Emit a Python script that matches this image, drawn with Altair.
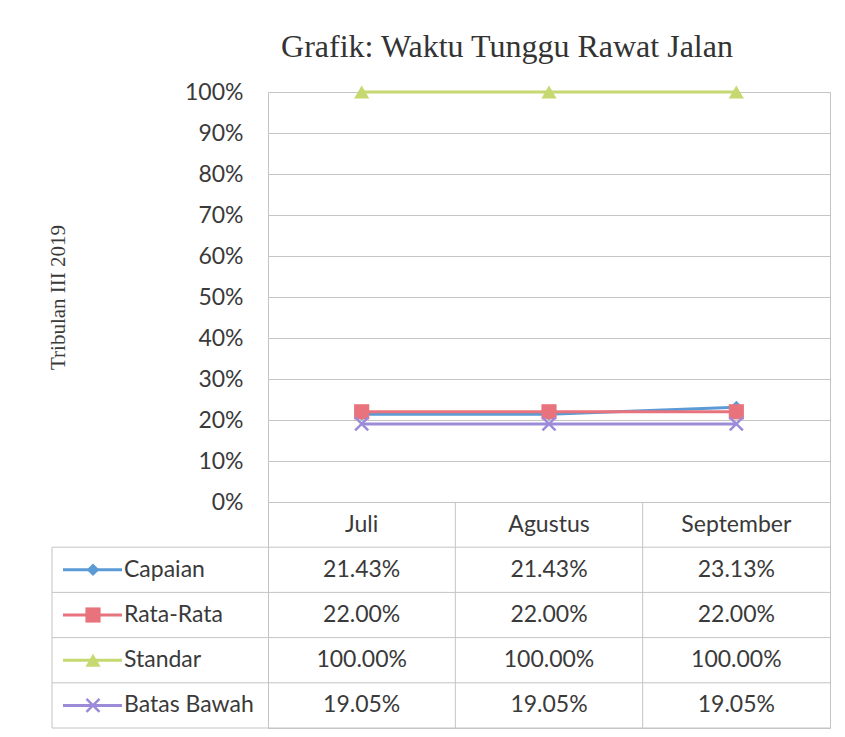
import altair as alt
import pandas as pd

months = ["Juli", "Agustus", "September"]
series = ["Capaian", "Rata-Rata", "Standar", "Batas Bawah"]
capaian = [0.2143, 0.2143, 0.2313]
rata_rata = [0.22, 0.22, 0.22]
standar = [1.0, 1.0, 1.0]
batas_bawah = [0.1905, 0.1905, 0.1905]
title_text = "Grafik: Waktu Tunggu Rawat Jalan"
y_title = "Tribulan III 2019"

values = {"Capaian": capaian, "Rata-Rata": rata_rata, "Standar": standar, "Batas Bawah": batas_bawah}
df = pd.DataFrame([{"bulan": m, "seri": s, "row": s, "nilai": v}
                   for s in series for m, v in zip(months, values[s])])

colors = ["#5B9BD5", "#E8737C", "#C6D870", "#9C8BD8"]
shapes = ["diamond", "square", "triangle-up", "M-1,-1L1,1M-1,1L1,-1"]
sizes = [160, 230, 230, 170]
filled = [True, True, True, False]

W, H_PLOT, H_TAB = 562, 410, 226
LEG = -216
GRID = "#c4c4c4"
TXT = "#3a3a3a"
FONT = "Lato"

color_scale = alt.Scale(domain=series, range=colors)

# ---------- top plot ----------
xpt = alt.X("bulan:N", sort=months, scale=alt.Scale(type="point", domain=months, padding=0.5), axis=None)
yv = alt.Y("nilai:Q", scale=alt.Scale(domain=[0, 1]),
           axis=alt.Axis(tickCount=10, format=".0%", ticks=False, domain=False,
                         labelFontSize=23, labelColor=TXT, labelFont=FONT, labelPadding=25,
                         gridColor=GRID, title=y_title, titleFont="Liberation Serif",
                         titleFontSize=21, titleFontWeight="normal", titleColor=TXT,
                         titlePadding=116))

base = alt.Chart(df)
lines = base.mark_line(strokeWidth=3).encode(
    x=xpt, y=yv, color=alt.Color("seri:N", scale=color_scale, legend=None), detail="seri:N")
pts = []
for i, s in enumerate(series):
    pts.append(base.transform_filter(alt.datum.seri == s).mark_point(
        shape=shapes[i], size=sizes[i], filled=filled[i], color=colors[i],
        strokeWidth=2.5, opacity=1).encode(x=xpt, y=yv))

top = alt.layer(lines, *pts).properties(
    width=W, height=H_PLOT,
    title=alt.TitleParams(title_text, font="Liberation Serif", fontSize=32, fontWeight="normal",
                          color="#333333", dx=-42, offset=17, anchor="middle"))

# ---------- data table ----------
rows = ["hdr"] + series
xb_scale = alt.Scale(type="band", domain=months, paddingInner=0, paddingOuter=0)
yb_scale = alt.Scale(type="band", domain=rows, paddingInner=0, paddingOuter=0)

hdr_df = pd.DataFrame({"bulan": months, "row": ["hdr"] * len(months)})
hdr_text = alt.Chart(hdr_df).mark_text(fontSize=23, font=FONT, color=TXT).encode(
    x=alt.X("bulan:N", scale=xb_scale, axis=None),
    y=alt.Y("row:N", scale=yb_scale, axis=None),
    text="bulan:N")

val_text = alt.Chart(df).mark_text(fontSize=23, font=FONT, color=TXT).encode(
    x=alt.X("bulan:N", scale=xb_scale, axis=None),
    y=alt.Y("row:N", scale=yb_scale, axis=None),
    text=alt.Text("nilai:Q", format=".2%"))

row_df = pd.DataFrame({"row": series})
hrules = alt.Chart(row_df).mark_rule(color=GRID, strokeWidth=1).encode(
    y=alt.Y("row:N", scale=yb_scale, axis=None, bandPosition=0),
    x=alt.value(LEG), x2=alt.value(W))
bottom_rule = alt.Chart(pd.DataFrame({"row": [series[-1]]})).mark_rule(color=GRID, strokeWidth=1).encode(
    y=alt.Y("row:N", scale=yb_scale, axis=None, bandPosition=1),
    x=alt.value(LEG), x2=alt.value(W))
left_rule = alt.Chart(pd.DataFrame({"row": [series[0]]})).mark_rule(color=GRID, strokeWidth=1).encode(
    y=alt.Y("row:N", scale=yb_scale, axis=None, bandPosition=0),
    y2=alt.value(H_TAB), x=alt.value(LEG))
vrules = alt.Chart(pd.DataFrame({"bulan": months[1:]})).mark_rule(color=GRID, strokeWidth=1).encode(
    x=alt.X("bulan:N", scale=xb_scale, axis=None, bandPosition=0),
    y=alt.value(0), y2=alt.value(H_TAB))

leg_lines = alt.Chart(row_df).mark_rule(strokeWidth=3).encode(
    y=alt.Y("row:N", scale=yb_scale, axis=None),
    x=alt.value(LEG + 11), x2=alt.value(LEG + 70),
    color=alt.Color("row:N", scale=color_scale, legend=None))
leg_pts = []
for i, s in enumerate(series):
    leg_pts.append(alt.Chart(row_df).transform_filter(alt.datum.row == s).mark_point(
        shape=shapes[i], size=sizes[i], filled=filled[i], color=colors[i],
        strokeWidth=2.5, opacity=1).encode(
        y=alt.Y("row:N", scale=yb_scale, axis=None), x=alt.value(LEG + 41)))
leg_text = alt.Chart(row_df).mark_text(fontSize=23, font=FONT, color=TXT, align="left").encode(
    y=alt.Y("row:N", scale=yb_scale, axis=None), x=alt.value(LEG + 72), text="row:N")

table = alt.layer(hrules, bottom_rule, left_rule, vrules, leg_lines, *leg_pts, leg_text,
                  hdr_text, val_text).properties(width=W, height=H_TAB)

chart = alt.vconcat(top, table, spacing=0, bounds="flush").properties(
    padding={"left": 39, "top": 22, "right": 5, "bottom": 5}
).configure_view(stroke=GRID).configure_concat(spacing=0)

chart.save("out.html", embed_options={"renderer": "svg", "actions": False})
